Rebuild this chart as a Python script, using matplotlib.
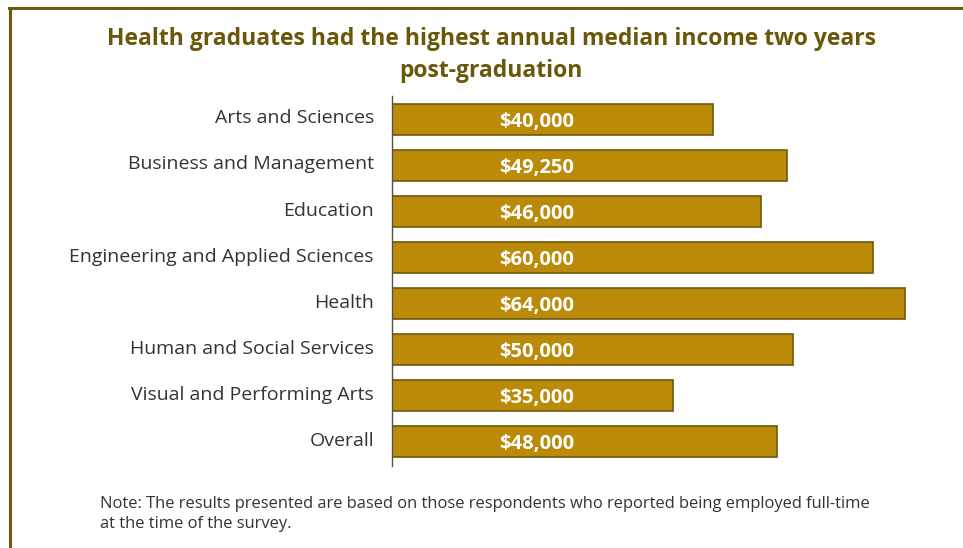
import matplotlib.pyplot as plt
from matplotlib.lines import Line2D
from matplotlib.transforms import ScaledTranslation

# ========= data =========
fields = [
    "Arts and Sciences",
    "Business and Management",
    "Education",
    "Engineering and Applied Sciences",
    "Health",
    "Human and Social Services",
    "Visual and Performing Arts",
    "Overall",
]
median_income = [40000, 49250, 46000, 60000, 64000, 50000, 35000, 48000]

title = "Health graduates had the highest annual median income two years\npost-graduation"
note = ("Note: The results presented are based on those respondents who reported being employed full-time\n"
        "at the time of the survey.")

# ========= style =========
plt.rcParams["font.family"] = ["Open Sans", "DejaVu Sans"]
bar_color = "#BA8A08"
edge_color = "#6E5A0C"
title_color = "#6B5708"
text_color = "#333333"

fig = plt.figure(figsize=(9.63, 5.48), dpi=100)
ax = fig.add_axes([392 / 963, 82 / 548, (955 - 392) / 963, 370 / 548])

y = range(len(fields))
ax.barh(y, median_income, height=0.67, color=bar_color,
        edgecolor=edge_color, linewidth=1.2)

for i, v in enumerate(median_income):
    ax.text(13400, i + 0.05, f"${v:,}", ha="left", va="center",
            color="white", fontsize=14.5, fontweight="bold")

ax.set_xlim(0, 70200)
ax.set_ylim(len(fields) - 0.47, -0.51)
ax.set_yticks(list(y))
ax.set_yticklabels(fields, fontsize=14, color=text_color)
ax.tick_params(axis="y", length=0, pad=13)
# nudge the category labels up a little
lift = ScaledTranslation(0, 3 / 100, fig.dpi_scale_trans)
for lab in ax.get_yticklabels():
    lab.set_transform(lab.get_transform() + lift)
ax.set_xticks([])
for side in ["top", "right", "bottom"]:
    ax.spines[side].set_visible(False)
ax.spines["left"].set_color("#55514a")
ax.spines["left"].set_linewidth(1.0)

fig.text(491 / 963, 1 - 55 / 548, title, ha="center", va="center",
         fontsize=16.5, fontweight="bold", color=title_color, linespacing=1.42)
fig.text(100 / 963, 1 - 514 / 548, note, ha="left", va="center",
         fontsize=11.9, color=text_color, linespacing=1.35)

# frame lines along the top and left edges
fig.add_artist(Line2D([9 / 963, 1], [1 - 7.5 / 548, 1 - 7.5 / 548],
                      transform=fig.transFigure, color=edge_color, linewidth=2.2))
fig.add_artist(Line2D([9.5 / 963, 9.5 / 963], [0, 1 - 7.5 / 548],
                      transform=fig.transFigure, color=edge_color, linewidth=2.2))

fig.savefig("out.png", dpi=100)
